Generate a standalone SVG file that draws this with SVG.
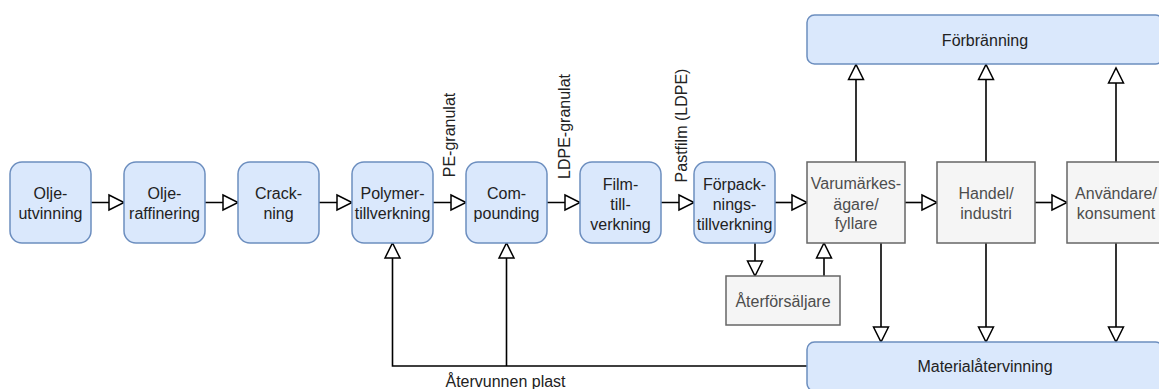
<svg xmlns="http://www.w3.org/2000/svg" width="1159" height="389" viewBox="0 0 1159 389">
  <defs>
    <marker id="open-tri" markerUnits="userSpaceOnUse" markerWidth="18" markerHeight="18" viewBox="-1 -1 18 18" refX="15" refY="7.5" orient="auto" overflow="visible">
      <path d="M0,0 L15,7.5 L0,15 Z" fill="#ffffff" stroke="#000000" stroke-width="1.5" stroke-linejoin="miter"/>
    </marker>
    <style>
      .blue { fill: #dae8fc; stroke: #6c8ebf; stroke-width: 1.5; }
      .gray { fill: #f5f5f5; stroke: #666666; stroke-width: 1.5; }
      .lbl { font-family: "Liberation Sans", Arial, sans-serif; font-size: 16px; text-anchor: middle; }
      .dark { fill: #222222; }
      .soft { fill: #4d4d4d; }
      .edge { fill: none; stroke: #000000; stroke-width: 1.6; marker-end: url(#open-tri); }
      .plain { fill: none; stroke: #000000; stroke-width: 1.6; }
    </style>
  </defs>
  <rect width="1159" height="389" fill="#ffffff"/>

  <!-- connectors -->
  <g id="connectors">
    <!-- main production chain -->
    <path class="edge" d="M91,202.5 H124"/>
    <path class="edge" d="M205,202.5 H238"/>
    <path class="edge" d="M319,202.5 H352"/>
    <path class="edge" d="M433,202.5 H466"/>
    <path class="edge" d="M547,202.5 H580"/>
    <path class="edge" d="M661,202.5 H694"/>
    <path class="edge" d="M775,202.5 H807"/>
    <path class="edge" d="M905,202.5 H937"/>
    <path class="edge" d="M1035,202.5 H1067"/>
    <!-- via retailer -->
    <path class="edge" d="M755,243 V276"/>
    <path class="edge" d="M824,276 V243"/>
    <!-- to incineration -->
    <path class="edge" d="M856,162 V64.5"/>
    <path class="edge" d="M986,162 V64.5"/>
    <path class="edge" d="M1116,162 V68"/>
    <!-- to material recycling -->
    <path class="edge" d="M881,243 V342"/>
    <path class="edge" d="M986,243 V342"/>
    <path class="edge" d="M1116,243 V342"/>
    <!-- recycled plastic back into production -->
    <path class="edge" d="M807,366 H392.5 V243"/>
    <path class="edge" d="M506.5,366 V243"/>
    <!-- edge labels -->
    <text class="lbl dark" transform="translate(455,135) rotate(-90)">PE-granulat</text>
    <text class="lbl dark" transform="translate(570,126.5) rotate(-90)">LDPE-granulat</text>
    <text class="lbl dark" transform="translate(687,125.5) rotate(-90)">Pastfilm (LDPE)</text>
    <text class="lbl dark" x="505.5" y="386.5">Återvunnen plast</text>
  </g>

  <g id="oljeutvinning">
    <rect class="blue" x="10" y="162" width="81" height="81" rx="12" ry="12"/>
    <text class="lbl dark" x="50.5" y="198.5">Olje-</text>
    <text class="lbl dark" x="50.5" y="218.5">utvinning</text>
  </g>
  <g id="oljeraffinering">
    <rect class="blue" x="124" y="162" width="81" height="81" rx="12" ry="12"/>
    <text class="lbl dark" x="164.5" y="198.5">Olje-</text>
    <text class="lbl dark" x="164.5" y="218.5">raffinering</text>
  </g>
  <g id="cracking">
    <rect class="blue" x="238" y="162" width="81" height="81" rx="12" ry="12"/>
    <text class="lbl dark" x="278.5" y="198.5">Crack-</text>
    <text class="lbl dark" x="278.5" y="218.5">ning</text>
  </g>
  <g id="polymertillverkning">
    <rect class="blue" x="352" y="162" width="81" height="81" rx="12" ry="12"/>
    <text class="lbl dark" x="392.5" y="198.5">Polymer-</text>
    <text class="lbl dark" x="392.5" y="218.5">tillverkning</text>
  </g>
  <g id="compounding">
    <rect class="blue" x="466" y="162" width="81" height="81" rx="12" ry="12"/>
    <text class="lbl dark" x="506.5" y="198.5">Com-</text>
    <text class="lbl dark" x="506.5" y="218.5">pounding</text>
  </g>
  <g id="filmtillverkning">
    <rect class="blue" x="580" y="162" width="81" height="81" rx="12" ry="12"/>
    <text class="lbl dark" x="620.5" y="190">Film-</text>
    <text class="lbl dark" x="620.5" y="210">till-</text>
    <text class="lbl dark" x="620.5" y="230">verkning</text>
  </g>
  <g id="forpackningstillverkning">
    <rect class="blue" x="694" y="162" width="81" height="81" rx="12" ry="12"/>
    <text class="lbl dark" x="734.5" y="190">Förpack-</text>
    <text class="lbl dark" x="734.5" y="210">nings-</text>
    <text class="lbl dark" x="734.5" y="230">tillverkning</text>
  </g>
  <g id="varumarkesagare">
    <rect class="gray" x="807" y="162" width="98" height="81"/>
    <text class="lbl soft" x="856" y="189">Varumärkes-</text>
    <text class="lbl soft" x="856" y="209.5">ägare/</text>
    <text class="lbl soft" x="856" y="229">fyllare</text>
  </g>
  <g id="handel">
    <rect class="gray" x="937" y="162" width="98" height="81"/>
    <text class="lbl soft" x="986" y="198.5">Handel/</text>
    <text class="lbl soft" x="986" y="218.5">industri</text>
  </g>
  <g id="anvandare">
    <rect class="gray" x="1067" y="162" width="98" height="81"/>
    <text class="lbl soft" x="1116" y="198.5">Användare/</text>
    <text class="lbl soft" x="1116" y="218.5">konsument</text>
  </g>
  <g id="aterforsaljare">
    <rect class="gray" x="726" y="276" width="114" height="49"/>
    <text class="lbl soft" x="783" y="306.5">Återförsäljare</text>
  </g>
  <g id="forbranning">
    <rect class="blue" x="807" y="15" width="356" height="49" rx="7.5" ry="7.5"/>
    <text class="lbl dark" x="985" y="45.5">Förbränning</text>
  </g>
  <g id="materialatervinning">
    <rect class="blue" x="807" y="342" width="356" height="49" rx="7.5" ry="7.5"/>
    <text class="lbl dark" x="985" y="371.5">Materialåtervinning</text>
  </g>
</svg>
